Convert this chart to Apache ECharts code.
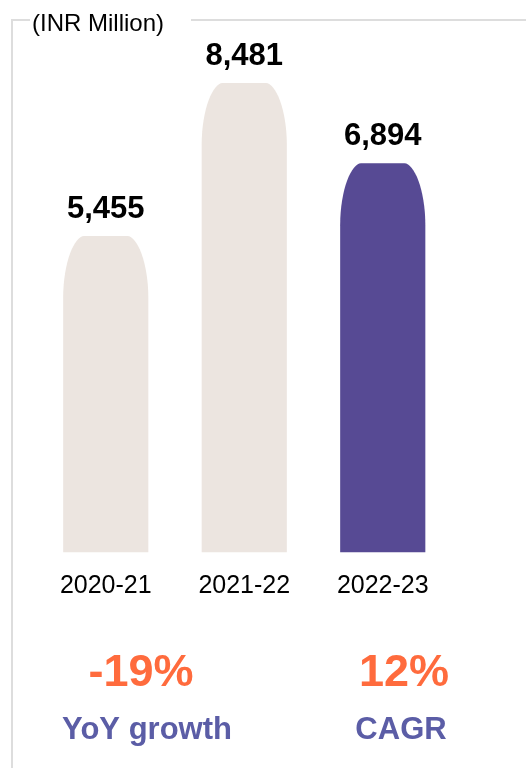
<!DOCTYPE html>
<html>
<head>
<meta charset="utf-8">
<script src="https://cdn.jsdelivr.net/npm/echarts@6/dist/echarts.min.js"></script>
<style>
html,body{margin:0;padding:0;background:#fff;}
#chart{width:526px;height:768px;}
</style>
</head>
<body>
<div id="chart"></div>
<script>
const categories = ['2020-21', '2021-22', '2022-23'];
const values = [5455, 8481, 6894];
const unitLabel = '(INR Million)';
const growthValues = ['-19%', '12%'];
const growthLabels = ['YoY growth', 'CAGR'];

const Y_MIN = -800, Y_MAX = 9000;
const FONT = '"Liberation Sans", Arial, Helvetica, sans-serif';
const BEIGE = '#ECE5E0', PURPLE = '#574A94';
const ORANGE = '#FF6B3D', SLATE = '#5B5DA6';

const chart = echarts.init(document.getElementById('chart'), null, {renderer: 'canvas'});

function renderItem(params, api) {
  const i = api.value(0), v = api.value(1);
  const topPt = api.coord([i, v]);
  const basePt = api.coord([i, Y_MIN]);
  const w = api.size([1, 0])[0] * 0.615;
  const L = topPt[0] - w / 2, R = topPt[0] + w / 2;
  const T = topPt[1], B = basePt[1];
  const rx = w * 0.245, h = 62;
  const d = 'M' + L + ' ' + B +
    ' L' + L + ' ' + (T + h) +
    ' C' + L + ' ' + (T + h * 0.42) + ' ' + (L + rx * 0.55) + ' ' + T + ' ' + (L + rx) + ' ' + T +
    ' L' + (R - rx) + ' ' + T +
    ' C' + (R - rx * 0.55) + ' ' + T + ' ' + R + ' ' + (T + h * 0.42) + ' ' + R + ' ' + (T + h) +
    ' L' + R + ' ' + B + ' Z';
  const isLast = params.dataIndex === categories.length - 1;
  return {
    type: 'group',
    children: [
      {type: 'path', shape: {pathData: d}, style: {fill: isLast ? PURPLE : BEIGE}},
      {type: 'text', style: {
        text: values[params.dataIndex].toLocaleString('en-US'),
        x: topPt[0], y: T - 27,
        align: 'center', verticalAlign: 'middle', textAlign: 'center', textVerticalAlign: 'middle',
        font: 'bold 31px ' + FONT, fill: '#000'
      }}
    ]
  };
}

const gTexts = [];
const gX = [141, 404];
growthValues.forEach((t, k) => {
  gTexts.push({type: 'text', left: null, style: {
    text: t, x: gX[k], y: 674, align: 'center', verticalAlign: 'middle',
    textAlign: 'center', textVerticalAlign: 'middle',
    font: 'bold 45px ' + FONT, fill: ORANGE
  }});
});
const lX = [147, 401];
growthLabels.forEach((t, k) => {
  gTexts.push({type: 'text', style: {
    text: t, x: lX[k], y: 730, align: 'center', verticalAlign: 'middle',
    textAlign: 'center', textVerticalAlign: 'middle',
    font: 'bold 31px ' + FONT, fill: SLATE
  }});
});

const option = {
  animation: false,
  backgroundColor: '#fff',
  grid: {left: 36.5, right: 74, top: 56.75, bottom: 215.75, containLabel: false},
  xAxis: {
    type: 'category', data: categories,
    axisLine: {show: false}, axisTick: {show: false},
    axisLabel: {margin: 34, verticalAlign: 'middle', fontSize: 25, fontFamily: FONT, color: '#000'}
  },
  yAxis: {type: 'value', min: Y_MIN, max: Y_MAX, show: false, splitLine: {show: false}},
  graphic: [
    {type: 'line', shape: {x1: 12, y1: 20, x2: 12, y2: 768}, style: {stroke: '#DDDDDD', lineWidth: 2}},
    {type: 'line', shape: {x1: 11, y1: 20, x2: 30, y2: 20}, style: {stroke: '#DDDDDD', lineWidth: 2}},
    {type: 'line', shape: {x1: 191, y1: 20, x2: 526, y2: 20}, style: {stroke: '#DDDDDD', lineWidth: 2}},
    {type: 'text', style: {text: unitLabel, x: 32, y: 24, align: 'left', verticalAlign: 'middle',
      textAlign: 'left', textVerticalAlign: 'middle', font: '24px ' + FONT, fill: '#000'}}
  ].concat(gTexts),
  series: [{
    type: 'custom',
    renderItem: renderItem,
    data: values.map((v, i) => [i, v]),
    encode: {x: 0, y: 1}
  }]
};
chart.setOption(option);
</script>
</body>
</html>
